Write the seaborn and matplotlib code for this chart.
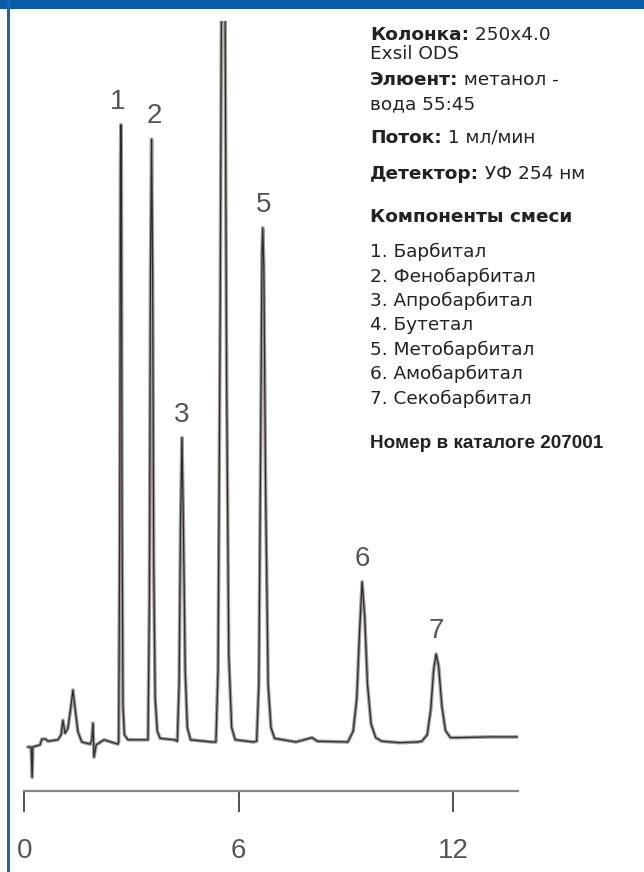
import pandas as pd
import matplotlib.pyplot as plt
import seaborn as sns
from matplotlib.patches import Rectangle

# chromatogram trace (time in min, signal in arbitrary units)
time_min = [0.10, 0.19, 0.22, 0.24, 0.44, 0.49, 0.60, 0.66, 0.94, 1.03, 1.08, 1.14,
            1.22, 1.31, 1.36, 1.42, 1.50, 1.61, 1.84, 1.89, 1.92, 1.95, 2.01, 2.23, 2.62,
            2.64, 2.67, 2.69, 2.70, 2.715, 2.735, 2.76, 2.80, 2.90, 3.30,
            3.46, 3.50, 3.53, 3.56, 3.59, 3.62, 3.66, 3.72, 3.80, 4.20,
            4.28, 4.33, 4.37, 4.41, 4.45, 4.50, 4.56, 4.65, 5.25,
            5.36, 5.42, 5.48, 5.53, 5.56, 5.60, 5.66, 5.72, 5.80, 5.90, 6.40,
            6.50, 6.56, 6.61, 6.65, 6.67, 6.70, 6.75, 6.82, 6.90, 7.00,
            7.60, 7.90, 8.05, 8.20,
            9.05, 9.20, 9.30, 9.38, 9.45, 9.52, 9.60, 9.70, 9.83, 10.0, 10.5, 11.0,
            11.12, 11.27, 11.37, 11.45, 11.52, 11.59, 11.68, 11.78, 11.92, 12.1, 13.0, 13.8]
signal = [-0.7, -0.7, -4.9, -0.7, -0.4, 0.4, 0.4, 0.1, 0.3, 1.0, 3.0, 1.2,
          1.9, 5.1, 7.2, 4.7, 1.4, 0.0, -0.3, 0.3, 2.6, -2.1, -0.4, 0.3, -0.3,
          0.0, 30, 80, 85.6, 80, 30, 5, 1, 0.3, 0.3,
          0.3, 20, 65, 83.6, 65, 25, 6, 1.5, 0.5, 0.3,
          0.1, 8, 30, 42.2, 30, 10, 2, 0.3, 0.0,
          0.0, 10, 60, 120, 140, 120, 50, 12, 2, 0.3, 0.0,
          0.1, 8, 40, 68, 71.3, 66, 35, 8, 2, 0.5,
          0.0, 0.4, 0.6, 0.1,
          0.0, 1.5, 6, 15.5, 22.2, 17.5, 8, 2.5, 0.6, 0.1, -0.1, 0.0,
          0.1, 1.0, 4.5, 10.0, 12.2, 10.5, 5.0, 1.6, 0.6, 0.6, 0.7, 0.7]

peak_ids = ["1", "2", "3", "5", "6", "7"]
peak_rt = [2.70, 3.56, 4.41, 6.67, 9.45, 11.52]
peak_top = [85.6, 83.6, 42.2, 71.3, 22.2, 12.2]

x_ticks = [0, 6, 12]

cond_bold = ["Колонка:", "", "Элюент:", "", "Поток:", "Детектор:"]
cond_text = [" 250x4.0", "Exsil ODS", " метанол -", "вода 55:45", " 1 мл/мин", " УФ 254 нм"]
components = ["Барбитал", "Фенобарбитал", "Апробарбитал", "Бутетал",
              "Метобарбитал", "Амобарбитал", "Секобарбитал"]
catalog = "Номер в каталоге 207001"

df = pd.DataFrame({"t": time_min, "s": signal})

sns.set_style("white")
plt.rcParams["font.family"] = ["Liberation Sans", "DejaVu Sans"]

W, H = 644, 872
fig = plt.figure(figsize=(W / 100, H / 100), dpi=100)
fig.patch.set_facecolor("white")

# axes placed in pixel terms: x axis from 24 px to 518 px, y from 21 px to 791 px
ax = fig.add_axes([24.3 / W, 1 - 791 / H, (518 - 24.3) / W, (791 - 21) / H])
sns.lineplot(data=df, x="t", y="s", sort=False, estimator=None,
             color="#a59f9c", linewidth=2.6, ax=ax)
sns.lineplot(data=df, x="t", y="s", sort=False, estimator=None,
             color="#2b2b2b", linewidth=0.9, ax=ax)
ax.set_xlim(0, 13.81)
ax.set_ylim(-6.8, 100)
ax.set_xlabel("")
ax.set_ylabel("")
ax.set_yticks([])
ax.set_xticks(x_ticks)
ax.set_xticklabels([str(v) for v in x_ticks], fontsize=20, color="#555555")
ax.tick_params(axis="x", direction="out", length=15, width=1.2, color="#333333",
               pad=18.5, bottom=True)
for side in ["left", "top", "right"]:
    ax.spines[side].set_visible(False)
ax.spines["bottom"].set_color("#8a8483")
ax.spines["bottom"].set_linewidth(1.6)
ax.patch.set_alpha(0)

for pid, rt, top, dx in zip(peak_ids, peak_rt, peak_top, [-3, 3, 0, 1, 0, 0]):
    ax.annotate(pid, xy=(rt, top), xytext=(dx, 23), textcoords="offset pixels",
                ha="center", va="center", fontsize=20, color="#555555",
                annotation_clip=False)

# blue frame
fig.add_artist(Rectangle((0, 1 - 9.5 / H), 1, 9.5 / H, transform=fig.transFigure,
                         color="#0a5ca8", lw=0))
fig.add_artist(Rectangle((7 / W, 0), 2.6 / W, 1, transform=fig.transFigure,
                         color="#1565b8", lw=0))

# conditions block
tx = 370 / W
fs = 13.3
side_font = ["DejaVu Sans"]
cond_y = [35, 54, 80, 104, 138, 174]
for b, r, y in zip(cond_bold, cond_text, cond_y):
    yf = 1 - y / H
    if b:
        t0 = fig.text(tx, yf, b, fontsize=fs, fontweight="bold", color="#222222",
                      va="center", ha="left", family=side_font)
        ax.annotate(r, xy=(1, 0), xycoords=t0, va="bottom", ha="left",
                    fontsize=fs, color="#222222", annotation_clip=False,
                    family=side_font)
    else:
        fig.text(tx, yf, r, fontsize=fs, color="#222222", va="center", ha="left",
                 family=side_font)

fig.text(tx, 1 - 217 / H, "Компоненты смеси", fontsize=fs, fontweight="bold",
         color="#222222", va="center", ha="left", family=side_font)
for i, name in enumerate(components):
    fig.text(tx, 1 - (252 + 24.4 * i) / H, f"{i + 1}. {name}", fontsize=fs,
             color="#222222", va="center", ha="left", family=side_font)

fig.text(tx, 1 - 443 / H, catalog, fontsize=13.6, fontweight="bold",
         color="#222222", va="center", ha="left")

fig.savefig("out.png", dpi=100)
